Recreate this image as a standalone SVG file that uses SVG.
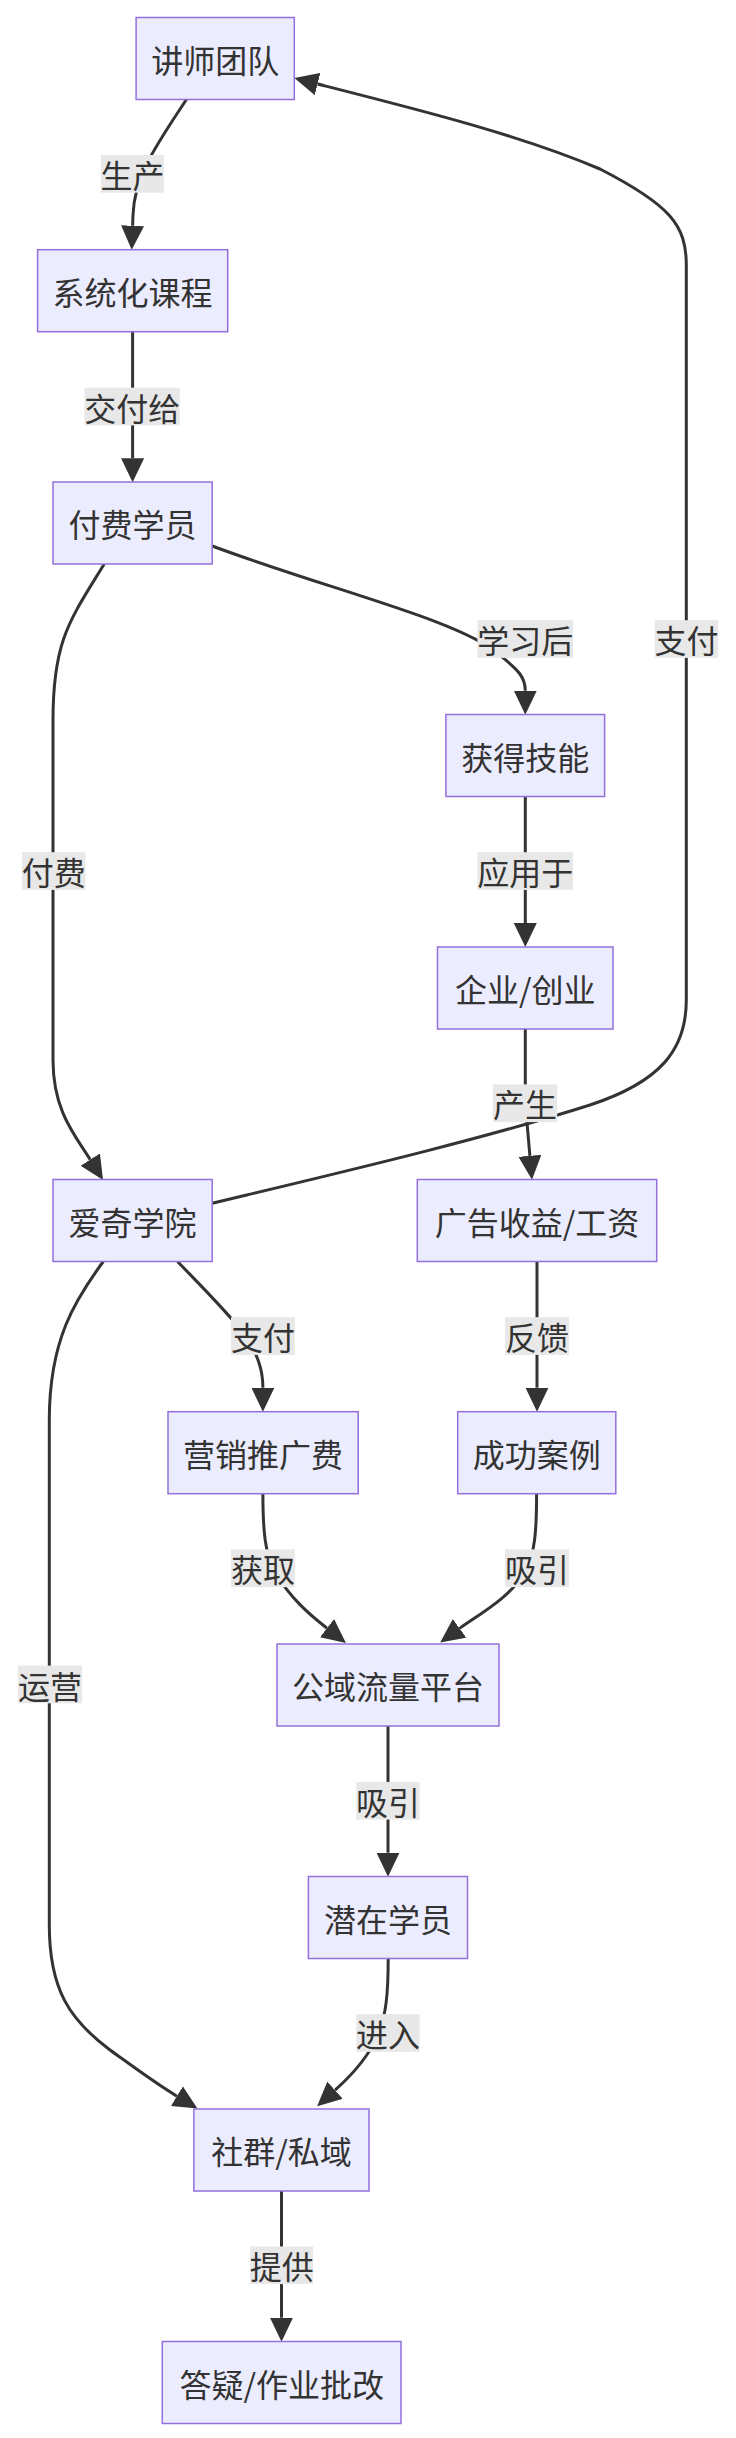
<svg xmlns="http://www.w3.org/2000/svg" width="736" height="2438" viewBox="0 0 736 2438">
<style>
.node rect{fill:#ECECFF;stroke:#9370DB;stroke-width:1.5}
.node text,.lbl text{font-family:"Noto Sans CJK SC","Noto Sans",sans-serif;font-size:32px;fill:#333;text-anchor:middle;dominant-baseline:central}
.edge{fill:none;stroke:#333;stroke-width:3;marker-end:url(#arr)}
.lbl rect{fill:#e8e8e8}
</style>
<defs>
<marker id="arr" viewBox="0 0 24 23" refX="0" refY="11.5" markerWidth="24" markerHeight="23" markerUnits="userSpaceOnUse" orient="auto">
<path d="M0,0 L24,11.5 L0,23 z" fill="#333"/>
</marker>
</defs>
<rect width="736" height="2438" fill="#fff"/>
<g id="connectors">
<path class="edge" d="M186.4,99.5 C160,140 134,175 133,215 L132.6,225.7"/>
<path class="edge" d="M132.6,331.7 L132.6,458.3"/>
<path class="edge" d="M212.2,546 C330,590 460,620 500,655 C515,668 525.3,675 525.3,690.7"/>
<path class="edge" d="M212.2,1203.3 C330,1175 480,1140 590,1105 C660,1082 686.3,1050 686.3,1000 L686.3,265 C686.3,225 670,205 600,169 C520,135 420,110 317.6,84"/>
<path class="edge" d="M104.2,564 C70,620 53,640 53,720 L53,1060 C53,1110 74,1134 90.2,1159.6"/>
<path class="edge" d="M525.3,796.5 L525.3,923"/>
<path class="edge" d="M525.3,1029 L525.3,1090 Q525.5,1110 527.3,1126 L529.9,1155.8"/>
<path class="edge" d="M177.5,1261.5 C205,1290 230,1315 245,1335 C258,1355 262.9,1370 262.9,1387.7"/>
<path class="edge" d="M537,1261.5 L537,1387.7"/>
<path class="edge" d="M103.3,1261.5 C75,1300 49.3,1340 49.3,1420 L49.3,1925 C49.3,1990 70,2020 110,2050 C135,2068 155,2083 176.9,2096.2"/>
<path class="edge" d="M262.9,1493.7 C262.9,1530 265,1555 275,1572 C290,1598 310,1615 327,1628.2"/>
<path class="edge" d="M536.6,1493.7 C536.6,1530 535,1555 525,1572 C510,1598 478,1615 459.6,1628.4"/>
<path class="edge" d="M388,1726 L388,1852.7"/>
<path class="edge" d="M388.2,1958 C388.2,1995 386,2015 378,2035 C368,2058 352,2075 335,2090.2"/>
<path class="edge" d="M281.5,2191 L281.5,2317.7"/>
</g>
<g id="edge-labels">
<g class="lbl"><rect x="100.9" y="155" width="63" height="37.7"/><text x="132.4" y="173.8">生产</text></g>
<g class="lbl"><rect x="84.5" y="387.7" width="95.3" height="37.7"/><text x="132.2" y="406.6">交付给</text></g>
<g class="lbl"><rect x="477.4" y="620.2" width="95.7" height="37.7"/><text x="525.3" y="639">学习后</text></g>
<g class="lbl"><rect x="654.8" y="620.2" width="63.4" height="37.7"/><text x="686.5" y="639">支付</text></g>
<g class="lbl"><rect x="22" y="852.2" width="63.4" height="37.7"/><text x="53.7" y="871">付费</text></g>
<g class="lbl"><rect x="477.4" y="852.2" width="95.7" height="37.7"/><text x="525.3" y="871">应用于</text></g>
<g class="lbl"><rect x="492.9" y="1084.4" width="64.3" height="37.7"/><text x="525" y="1103.3">产生</text></g>
<g class="lbl"><rect x="231" y="1317.2" width="63.8" height="37.7"/><text x="262.9" y="1336">支付</text></g>
<g class="lbl"><rect x="505" y="1317.2" width="63.9" height="37.7"/><text x="537" y="1336">反馈</text></g>
<g class="lbl"><rect x="17.8" y="1665.6" width="64.3" height="37.7"/><text x="50" y="1684.5">运营</text></g>
<g class="lbl"><rect x="231" y="1549.4" width="63.8" height="37.7"/><text x="262.9" y="1568.3">获取</text></g>
<g class="lbl"><rect x="505" y="1549.4" width="63.9" height="37.7"/><text x="537" y="1568.3">吸引</text></g>
<g class="lbl"><rect x="356.3" y="1781.9" width="63.3" height="37.7"/><text x="388" y="1800.8">吸引</text></g>
<g class="lbl"><rect x="356.3" y="2014.1" width="63.3" height="37.7"/><text x="388" y="2033">进入</text></g>
<g class="lbl"><rect x="250.2" y="2246.4" width="62.9" height="37.7"/><text x="281.7" y="2265.3">提供</text></g>
</g>
<g id="n1" class="node"><rect x="136.1" y="17.5" width="158.2" height="82"/><text x="215.2" y="58.5">讲师团队</text></g>
<g id="n2" class="node"><rect x="37.6" y="249.7" width="190.1" height="82"/><text x="132.6" y="290.7">系统化课程</text></g>
<g id="n3" class="node"><rect x="53" y="482" width="159.2" height="82"/><text x="132.6" y="523">付费学员</text></g>
<g id="n4" class="node"><rect x="445.9" y="714.5" width="158.7" height="82"/><text x="525.3" y="755.5">获得技能</text></g>
<g id="n5" class="node"><rect x="437.5" y="947" width="175.5" height="82"/><text x="525.3" y="988">企业/创业</text></g>
<g id="n6" class="node"><rect x="417.3" y="1179.5" width="239.4" height="82"/><text x="537" y="1220.5">广告收益/工资</text></g>
<g id="n7" class="node"><rect x="53" y="1179.5" width="159.2" height="82"/><text x="132.6" y="1220.5">爱奇学院</text></g>
<g id="n8" class="node"><rect x="168" y="1411.7" width="190.2" height="82"/><text x="263.1" y="1452.7">营销推广费</text></g>
<g id="n9" class="node"><rect x="457.7" y="1411.7" width="158.1" height="82"/><text x="536.7" y="1452.7">成功案例</text></g>
<g id="n10" class="node"><rect x="277" y="1644" width="222" height="82"/><text x="388" y="1685">公域流量平台</text></g>
<g id="n11" class="node"><rect x="308.4" y="1876.5" width="159.1" height="82"/><text x="388" y="1917.5">潜在学员</text></g>
<g id="n12" class="node"><rect x="193.9" y="2109" width="175.1" height="82"/><text x="281.4" y="2150">社群/私域</text></g>
<g id="n13" class="node"><rect x="162.3" y="2341.5" width="238.7" height="82"/><text x="281.7" y="2382.5">答疑/作业批改</text></g>
</svg>
